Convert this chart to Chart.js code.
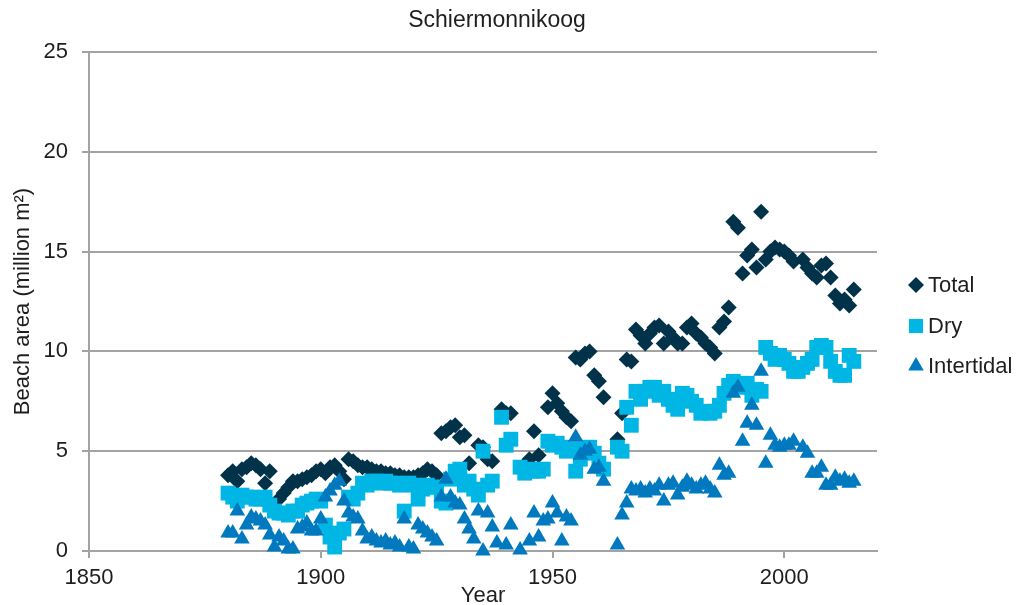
<!DOCTYPE html>
<html>
<head>
<meta charset="utf-8">
<title>Schiermonnikoog</title>
<script src="https://cdn.jsdelivr.net/npm/chart.js@4.4.1/dist/chart.umd.min.js"></script>
<style>
    html, body { margin: 0; padding: 0; background: #ffffff; }
    #wrap { width: 1016px; height: 605px; position: relative; }
</style>
</head>
<body>
<div id="wrap"><canvas id="chartBeach"></canvas></div>
<script>
const chartTitle = 'Schiermonnikoog';
const xTitle = 'Year';
const yTitle = 'Beach area (million m²)';
const seriesNames = ['Total', 'Dry', 'Intertidal'];
const xTicks = [1850, 1900, 1950, 2000];
const yTicks = [0, 5, 10, 15, 20, 25];

const totalYears = [
    1880, 1881, 1882, 1883, 1884, 1885, 1886, 1887, 1888, 1889,
    1891, 1892, 1893, 1894, 1895, 1896, 1897, 1898, 1899, 1900,
    1901, 1902, 1903, 1904, 1905, 1906, 1907, 1908, 1909, 1910,
    1911, 1912, 1913, 1914, 1915, 1916, 1917, 1918, 1919, 1920,
    1921, 1922, 1923, 1924, 1925, 1926, 1927, 1928, 1929, 1930,
    1931, 1932, 1934, 1935, 1936, 1937, 1939, 1940, 1941, 1944,
    1945, 1946, 1947, 1949, 1950, 1951, 1952, 1953, 1954, 1955,
    1956, 1957, 1958, 1959, 1960, 1961, 1964, 1965, 1966, 1967,
    1968, 1969, 1970, 1971, 1972, 1973, 1974, 1975, 1976, 1977,
    1978, 1979, 1980, 1981, 1982, 1983, 1984, 1985, 1986, 1987,
    1988, 1989, 1990, 1991, 1992, 1993, 1994, 1995, 1996, 1997,
    1998, 1999, 2000, 2001, 2002, 2004, 2005, 2006, 2007, 2008,
    2009, 2010, 2011, 2012, 2013, 2014, 2015
];
const totalValues = [
    3.8, 4.0, 3.5, 4.1, 4.2, 4.4, 4.3, 4.1, 3.4, 4.0,
    2.6, 2.9, 3.2, 3.5, 3.5, 3.6, 3.7, 3.8, 4.0, 4.1,
    3.9, 4.2, 4.3, 4.0, 3.6, 4.6, 4.5, 4.3, 4.2, 4.2,
    4.1, 4.0, 4.0, 3.9, 3.9, 3.8, 3.8, 3.7, 3.7, 3.7,
    3.8, 3.9, 4.1, 4.0, 3.8, 5.9, 6.0, 6.2, 6.3, 5.7,
    5.8, 4.4, 5.3, 5.2, 4.6, 4.5, 7.1, 6.9, 6.9, 4.3,
    4.6, 6.0, 4.8, 7.2, 7.9, 7.4, 7.0, 6.7, 6.5, 9.7,
    9.6, 9.9, 10.0, 8.8, 8.5, 7.7, 5.6, 6.9, 9.6, 9.5,
    11.1, 10.8, 10.4, 10.9, 11.2, 11.3, 10.4, 11.0, 10.7, 10.4,
    10.4, 11.2, 11.4, 10.9, 10.7, 10.4, 10.2, 9.9, 11.2, 11.5,
    12.2, 16.5, 16.2, 13.9, 14.8, 15.1, 14.2, 17.0, 14.6, 15.0,
    15.2, 15.1, 15.0, 14.8, 14.5, 14.6, 14.2, 13.9, 13.7, 14.3,
    14.4, 13.7, 12.8, 12.4, 12.6, 12.3, 13.1
];

const dryYears = [
    1880, 1881, 1882, 1883, 1884, 1885, 1886, 1887, 1888, 1889,
    1890, 1891, 1892, 1893, 1894, 1895, 1896, 1897, 1898, 1899,
    1900, 1901, 1902, 1903, 1904, 1905, 1906, 1907, 1908, 1909,
    1910, 1911, 1912, 1913, 1914, 1915, 1916, 1917, 1918, 1919,
    1920, 1921, 1922, 1923, 1924, 1925, 1926, 1927, 1928, 1929,
    1930, 1931, 1932, 1933, 1934, 1935, 1936, 1937, 1939, 1940,
    1941, 1943, 1944, 1945, 1946, 1947, 1948, 1949, 1950, 1951,
    1952, 1953, 1954, 1955, 1956, 1957, 1958, 1959, 1960, 1961,
    1964, 1965, 1966, 1967, 1968, 1969, 1970, 1971, 1972, 1973,
    1974, 1975, 1976, 1977, 1978, 1979, 1980, 1981, 1982, 1983,
    1984, 1985, 1986, 1987, 1988, 1989, 1990, 1991, 1992, 1993,
    1994, 1995, 1996, 1997, 1998, 1999, 2000, 2001, 2002, 2003,
    2004, 2005, 2006, 2007, 2008, 2009, 2010, 2011, 2012, 2013,
    2014, 2015
];
const dryValues = [
    2.9, 2.7, 2.5, 2.8, 2.7, 2.7, 2.6, 2.6, 2.7, 2.3,
    2.0, 1.9, 1.9, 1.8, 2.0, 2.0, 2.3, 2.4, 2.5, 2.6,
    2.5, 1.3, 0.7, 0.2, 0.9, 1.1, 2.7, 2.6, 2.9, 3.4,
    3.3, 3.5, 3.5, 3.4, 3.5, 3.4, 3.4, 3.3, 2.0, 3.4,
    3.3, 2.6, 3.1, 3.3, 3.2, 3.2, 2.5, 2.4, 3.6, 4.0,
    4.1, 3.3, 3.5, 3.1, 2.8, 5.0, 3.3, 3.5, 6.7, 5.3,
    5.6, 4.2, 3.9, 4.1, 4.0, 4.0, 4.1, 5.5, 5.3, 5.4,
    5.2, 5.0, 5.1, 4.0, 4.6, 5.1, 5.2, 4.9, 4.4, 4.1,
    5.2, 5.0, 7.2, 6.3, 8.0, 7.6, 8.0, 8.2, 8.2, 7.8,
    8.0, 7.6, 7.3, 7.1, 7.9, 7.8, 7.5, 7.3, 6.9, 7.0,
    6.9, 7.0, 7.3, 7.9, 8.3, 8.5, 8.2, 8.4, 8.4, 7.8,
    8.1, 8.0, 10.2, 9.9, 9.6, 9.8, 9.6, 9.4, 9.0, 9.0,
    9.2, 9.4, 9.6, 10.2, 10.3, 10.2, 9.5, 9.0, 8.8, 8.8,
    9.8, 9.5
];

const intertidalYears = [
    1880, 1881, 1882, 1883, 1884, 1885, 1886, 1887, 1888, 1889,
    1890, 1891, 1892, 1893, 1894, 1895, 1896, 1897, 1898, 1899,
    1900, 1901, 1902, 1903, 1904, 1905, 1906, 1907, 1908, 1909,
    1910, 1911, 1912, 1913, 1914, 1915, 1916, 1917, 1918, 1919,
    1920, 1921, 1922, 1923, 1924, 1925, 1926, 1927, 1928, 1929,
    1930, 1931, 1932, 1933, 1934, 1935, 1936, 1937, 1938, 1940,
    1941, 1943, 1945, 1946, 1947, 1948, 1949, 1950, 1951, 1952,
    1953, 1954, 1955, 1956, 1957, 1958, 1959, 1960, 1961, 1964,
    1965, 1966, 1967, 1968, 1969, 1970, 1971, 1972, 1973, 1974,
    1975, 1976, 1977, 1978, 1979, 1980, 1981, 1982, 1983, 1984,
    1985, 1986, 1987, 1988, 1989, 1990, 1991, 1992, 1993, 1994,
    1995, 1996, 1997, 1998, 1999, 2000, 2001, 2002, 2004, 2005,
    2006, 2007, 2008, 2009, 2010, 2011, 2012, 2013, 2014, 2015
];
const intertidalValues = [
    0.9, 0.9, 2.0, 0.6, 1.3, 1.7, 1.6, 1.5, 1.3, 0.8,
    0.2, 0.7, 0.5, 0.1, 0.1, 1.1, 1.2, 1.4, 1.0, 1.0,
    1.6, 2.7, 3.0, 3.3, 3.5, 2.5, 1.9, 1.7, 1.6, 1.0,
    0.6, 0.7, 0.5, 0.4, 0.5, 0.3, 0.4, 0.2, 1.6, 0.2,
    0.1, 1.3, 1.1, 0.9, 0.7, 0.5, 2.7, 3.6, 2.7, 2.4,
    2.3, 1.6, 1.1, 0.6, 2.0, 0.0, 1.9, 1.2, 0.4, 0.3,
    1.3, 0.05, 0.5, 1.9, 0.7, 1.5, 1.6, 2.4, 1.9, 0.5,
    1.7, 1.5, 5.7, 4.8, 5.0, 5.1, 4.1, 4.2, 3.5, 0.3,
    1.8, 2.4, 3.1, 3.0, 3.1, 2.9, 3.1, 3.0, 3.3, 2.5,
    3.3, 3.4, 2.8, 3.2, 3.5, 3.3, 3.1, 3.3, 3.4, 3.1,
    2.9, 4.3, 3.8, 3.9, 7.9, 8.2, 5.5, 6.4, 7.3, 6.3,
    9.0, 4.4, 5.8, 5.3, 5.2, 5.3, 5.3, 5.5, 5.2, 4.9,
    3.9, 3.9, 4.2, 3.3, 3.3, 3.7, 3.5, 3.6, 3.4, 3.5
];

const seriesColors = ['#00324a', '#00b6e4', '#0079bf'];
const seriesStyles = ['rectRot', 'rect', 'triangle'];
const seriesRadius = [8, 10.5, 9];

const fontFamily = '"Liberation Sans", Arial, Helvetica, sans-serif';
const gridColor = '#a3a3a3';
const textColor = '#1e1e1e';

const toPoints = (years, values) => years.map((ano, i) => ({ x: ano, y: values[i] }));

const drawMarker = (ctx, style, x, y, r) => {
    ctx.beginPath();
    if (style === 'rectRot') {
        ctx.moveTo(x, y - r);
        ctx.lineTo(x + r, y);
        ctx.lineTo(x, y + r);
        ctx.lineTo(x - r, y);
    } else if (style === 'rect') {
        const h = r * Math.SQRT1_2;
        ctx.rect(x - h, y - h, 2 * h, 2 * h);
    } else {
        const w = r * Math.sqrt(3) / 2;
        ctx.moveTo(x, y - r);
        ctx.lineTo(x + w, y + r / 2);
        ctx.lineTo(x - w, y + r / 2);
    }
    ctx.closePath();
    ctx.fill();
};

// titulo e legenda desenhados a mao: ficam fora do centro da area do grafico
const sideLegend = {
    id: 'sideLegend',
    afterDraw: (chart) => {
        const ctx = chart.ctx;
        const markerX = 916;
        const textX = 928;
        const rows = [285, 326, 366];
        const legendRadius = [8, 10, 9];
        ctx.save();
        ctx.fillStyle = textColor;
        ctx.font = '23px ' + fontFamily;
        ctx.textAlign = 'center';
        ctx.textBaseline = 'middle';
        ctx.fillText(chartTitle, 497, 21);

        seriesNames.forEach((nome, i) => {
            ctx.fillStyle = seriesColors[i];
            drawMarker(ctx, seriesStyles[i], markerX, rows[i], legendRadius[i]);
            ctx.fillStyle = textColor;
            ctx.font = '22px ' + fontFamily;
            ctx.textAlign = 'left';
            ctx.textBaseline = 'middle';
            ctx.fillText(nome, textX, rows[i] + 1);
        });
        ctx.restore();
    }
};

const seriesData = [
    toPoints(totalYears, totalValues),
    toPoints(dryYears, dryValues),
    toPoints(intertidalYears, intertidalValues)
];

const ctxBeach = document.querySelector('#chartBeach');

new Chart(ctxBeach, {
    type: 'scatter',
    data: {
        datasets: seriesNames.map((nome, i) => ({
            label: nome,
            data: seriesData[i],
            pointStyle: seriesStyles[i],
            pointRadius: seriesRadius[i],
            pointHoverRadius: seriesRadius[i],
            backgroundColor: seriesColors[i],
            borderColor: seriesColors[i],
            pointBorderWidth: 0,
            showLine: false,
            clip: false,
            order: 2 - i
        }))
    },
    options: {
        responsive: true,
        maintainAspectRatio: false,
        animation: false,
        events: [],
        layout: {
            padding: { left: 0, right: 139, top: 52, bottom: 0 }
        },
        plugins: {
            legend: { display: false },
            tooltip: { enabled: false },
            title: { display: false }
        },
        scales: {
            x: {
                type: 'linear',
                min: 1850,
                max: 2020,
                afterBuildTicks: (scale) => {
                    scale.ticks = xTicks.map((v) => ({ value: v }));
                },
                afterFit: (scale) => {
                    scale.height = 54;
                },
                ticks: {
                    color: textColor,
                    padding: 7,
                    font: { family: fontFamily, size: 22 },
                    maxRotation: 0,
                    callback: (v) => String(v)
                },
                grid: {
                    drawOnChartArea: false,
                    drawTicks: true,
                    tickLength: 7,
                    color: gridColor,
                    lineWidth: 2
                },
                border: { color: gridColor, width: 2 },
                title: {
                    display: true,
                    text: xTitle,
                    color: textColor,
                    font: { family: fontFamily, size: 22 },
                    padding: { top: 0, bottom: -4 }
                }
            },
            y: {
                type: 'linear',
                min: 0,
                max: 25,
                afterBuildTicks: (scale) => {
                    scale.ticks = yTicks.map((v) => ({ value: v }));
                },
                afterFit: (scale) => {
                    scale.width = 89;
                },
                ticks: {
                    color: textColor,
                    padding: 14,
                    font: { family: fontFamily, size: 22 }
                },
                grid: {
                    color: gridColor,
                    lineWidth: 2,
                    tickLength: 7
                },
                border: { color: gridColor, width: 2 },
                title: {
                    display: true,
                    text: yTitle,
                    color: textColor,
                    font: { family: fontFamily, size: 22 },
                    padding: { top: 10, bottom: 0 }
                }
            }
        }
    },
    plugins: [sideLegend]
});
</script>
</body>
</html>
